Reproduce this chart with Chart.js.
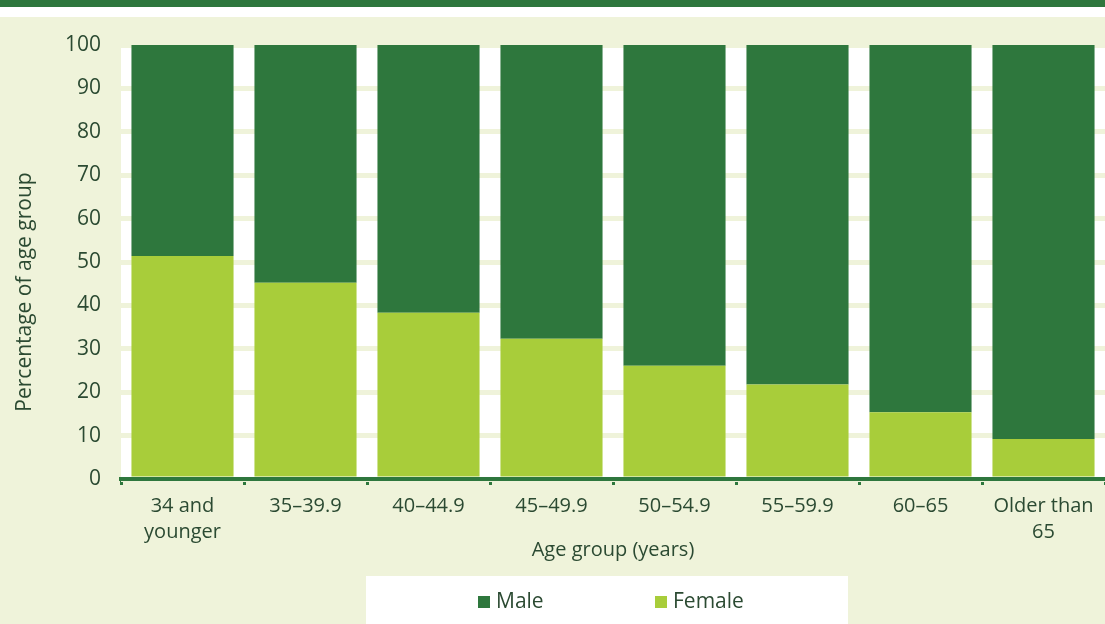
<!DOCTYPE html>
<html>
<head>
<meta charset="utf-8">
<script src="https://cdn.jsdelivr.net/npm/chart.js@4.4.1/dist/chart.umd.min.js"></script>
<style>
  html, body { margin: 0; padding: 0; background: #eff3da; }
  #wrap { width: 1105px; height: 624px; }
</style>
</head>
<body>
<div id="wrap"><canvas id="ageChart" width="1105" height="624"></canvas></div>
<script>
const ageGroups = [['34 and', 'younger'], '35–39.9', '40–44.9', '45–49.9', '50–54.9', '55–59.9', '60–65', ['Older than', '65']];
const femaleShare = [51.4, 45.2, 38.3, 32.3, 26.1, 21.8, 15.4, 9.2];
const maleShare = [48.6, 54.8, 61.7, 67.7, 73.9, 78.2, 84.6, 90.8];
const yTicks = [0, 10, 20, 30, 40, 50, 60, 70, 80, 90, 100];
const legendOrder = ['Male', 'Female'];

const darkGreen = '#2e773d';
const lightGreen = '#a8cd3a';
const paleBg = '#eff3da';
const textColor = '#2b4a32';
const fontFamily = '"Open Sans", "Noto Sans", sans-serif';

// paints the page background, top stripe, white plot area and legend box
const backdrop = {
    id: 'backdrop',
    beforeDraw(chart) {
        const c = chart.ctx;
        const area = chart.chartArea;
        c.save();
        c.fillStyle = paleBg;
        c.fillRect(0, 0, chart.width, chart.height);
        c.fillStyle = darkGreen;
        c.fillRect(0, 0, chart.width, 7);
        c.fillStyle = '#ffffff';
        c.fillRect(0, 7, chart.width, 10);
        c.fillRect(area.left, area.top, chart.width - area.left, area.bottom - area.top);
        c.fillRect(366, 576, 482, chart.height - 576);
        c.restore();
    },
    afterDraw(chart) {
        // legend inside the white box, items taken from the datasets
        const c = chart.ctx;
        c.save();
        c.font = '21px ' + fontFamily;
        c.textBaseline = 'middle';
        let x = 478;
        legendOrder.forEach(name => {
            const ds = chart.data.datasets.find(d => d.label === name);
            c.fillStyle = ds.backgroundColor;
            c.fillRect(x, 596, 12, 12);
            c.fillStyle = textColor;
            c.fillText(name, x + 18, 602);
            x += 177;
        });
        c.restore();
    }
};

new Chart(document.getElementById('ageChart').getContext('2d'), {
    type: 'bar',
    data: {
        labels: ageGroups,
        datasets: [
            {
                label: 'Female',
                data: femaleShare,
                backgroundColor: lightGreen,
                barPercentage: 0.83,
                categoryPercentage: 1.0
            },
            {
                label: 'Male',
                data: maleShare,
                backgroundColor: darkGreen,
                barPercentage: 0.83,
                categoryPercentage: 1.0
            }
        ]
    },
    options: {
        responsive: false,
        animation: false,
        layout: { padding: { top: 45, right: 0, left: 0, bottom: 0 } },
        plugins: {
            tooltip: { enabled: false },
            legend: { display: false }
        },
        scales: {
            x: {
                stacked: true,
                afterFit(scale) { scale.height = 145; },
                border: { display: true, color: darkGreen, width: 4 },
                grid: {
                    drawOnChartArea: false,
                    drawTicks: true,
                    tickLength: 6,
                    tickColor: darkGreen,
                    lineWidth: 3,
                    offset: true
                },
                ticks: {
                    color: textColor,
                    padding: 8,
                    maxRotation: 0,
                    font: { family: fontFamily, size: 20, lineHeight: 1.3 }
                },
                title: {
                    display: true,
                    text: 'Age group (years)',
                    color: textColor,
                    padding: { top: 0, bottom: 62 },
                    font: { family: fontFamily, size: 20 }
                }
            },
            y: {
                stacked: true,
                min: 0,
                max: 100,
                afterFit(scale) { scale.width = 121; },
                afterBuildTicks(scale) { scale.ticks = yTicks.map(v => ({ value: v })); },
                border: { display: false },
                grid: { color: paleBg, lineWidth: 5, drawTicks: false },
                ticks: {
                    color: textColor,
                    padding: 20,
                    font: { family: fontFamily, size: 21 }
                },
                title: {
                    display: true,
                    text: 'Percentage of age group' + '\u00a0'.repeat(11),
                    color: textColor,
                    padding: { top: 12, bottom: 0 },
                    font: { family: fontFamily, size: 21 }
                }
            }
        }
    },
    plugins: [backdrop]
});
</script>
</body>
</html>
